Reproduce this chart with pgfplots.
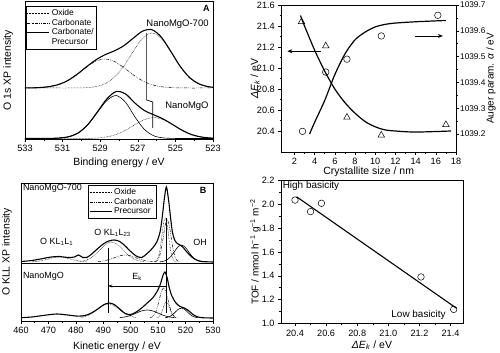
\documentclass[border=0pt]{standalone}
\usepackage{fontspec}
\setmainfont{Liberation Sans}
\usepackage{pgfplots}
\pgfplotsset{compat=1.18}
\usetikzlibrary{arrows.meta}

\pgfplotsset{
  myaxis/.style={
    scale only axis,
    anchor=south west,
    clip mode=individual,
    tick align=outside,
    major tick length=3pt,
    minor tick length=1.8pt,
    axis line style={line width=0.6pt},
    every tick/.style={black, line width=0.5pt},
    /pgf/number format/assume math mode=true,
    /pgf/number format/1000 sep={},
    tick label style={font=\fontsize{9.2}{11}\selectfont},
    label style={font=\fontsize{10.5}{12}\selectfont},
    xtick pos=left, ytick pos=left,
    legend image code/.code={\draw[#1] (0bp,0bp) -- (22bp,0bp);},
    legend style={draw=black, line width=0.5pt, font=\fontsize{8.5}{9.5}\selectfont, inner sep=1pt, row sep=-1.8pt},
    legend cell align=left,
  },
  oxide/.style={black, line width=0.5pt, dash pattern=on 0.6pt off 0.9pt, smooth},
  carb/.style={black, line width=0.5pt, dash pattern=on 3pt off 1.2pt on 0.6pt off 1.2pt on 0.6pt off 1.2pt, smooth},
  prec/.style={black, line width=0.6pt, smooth},
  total/.style={black, line width=1.1pt, smooth},
}

\begin{document}
\begin{tikzpicture}
\path[use as bounding box] (0,0) rectangle (500bp,353bp);

% ---------------- Panel A ----------------
\begin{axis}[myaxis, at={(25bp,214bp)}, width=188bp, height=138bp,
  x dir=reverse, xmin=523, xmax=533, ymin=0, ymax=138,
  xtick={523,525,...,533}, minor x tick num=1, ytick=\empty,
  xlabel={Binding energy / eV}, ylabel={O 1s XP intensity},
  xlabel style={at={(axis description cs:0.5,-0.174)}, anchor=center},
  ylabel style={at={(axis description cs:-0.09,0.5)}, anchor=center},
  legend style={at={(0.005,0.964)}, anchor=north west},
]
\addplot[oxide] coordinates {(533.25,51) (532.75,51) (532.25,51) (531.75,51) (531.25,51) (530.75,51) (530.25,51.07) (529.75,51.35) (529.25,52.3) (528.75,55.2) (528.25,61.5) (527.75,72.7) (527.25,87.4) (526.75,100.6) (526.25,106) (525.75,100.6) (525.25,87.4) (524.75,72.7) (524.25,61.5) (523.75,55.2) (523.25,52.3) (522.75,51.35)};
\addlegendentry{Oxide}
\addplot[carb] coordinates {(533.25,51) (532.75,51.1) (532.25,51.4) (531.75,52.3) (531.25,54.3) (530.75,58.2) (530.25,64.3) (529.75,71.5) (529.25,77.6) (528.75,80) (528.25,77.6) (527.75,71.5) (527.25,64.3) (526.75,58.2) (526.25,54.3) (525.75,52.3) (525.25,51.4) (524.75,51.1) (524.25,51) (523.75,51) (523.25,51) (522.75,51)};
\addlegendentry{Carbonate}
\addplot[prec] coordinates {(533.15,0.5) (532.65,0.5) (532.15,0.5) (531.65,0.6) (531.15,1.0) (530.65,2.4) (530.15,6.3) (529.65,14.5) (529.15,26.6) (528.65,38.4) (528.15,43.5) (527.65,36.7) (527.15,22.0) (526.65,9.6) (526.15,3.2) (525.65,1.1) (525.15,0.6) (524.65,0.5) (524.15,0.5) (523.65,0.5) (523.15,0.5) (522.65,0.5)};
\addlegendentry{Carbonate/}
\addlegendimage{empty legend}
\addlegendentry{Precursor}
% upper total
\addplot[total, forget plot] coordinates {(533.25,51.0) (532.75,51.1) (532.25,51.4) (531.75,52.3) (531.25,54.3) (530.75,58.2) (530.25,64.4) (529.75,71.9) (529.25,78.9) (528.75,84.2) (528.25,88.1) (527.75,93.2) (527.25,100.7) (526.75,107.8) (526.25,109.3) (525.75,101.9) (525.25,87.8) (524.75,72.8) (524.25,61.5) (523.75,55.2) (523.25,52.3) (522.75,51.35)};
% lower oxide
\addplot[oxide, forget plot] coordinates {(533.15,0.5) (532.65,0.5) (532.15,0.5) (531.65,0.5) (531.15,0.5) (530.65,0.5) (530.15,0.5) (529.65,0.6) (529.15,1.0) (528.65,2.1) (528.15,4.5) (527.65,8.8) (527.15,14.4) (526.65,19.4) (526.15,21.5) (525.65,19.4) (525.15,14.4) (524.65,8.8) (524.15,4.5) (523.65,2.1) (523.15,1.0) (522.65,0.6)};
% lower total
\addplot[total, forget plot] coordinates {(533.15,0.5) (532.65,0.5) (532.15,0.5) (531.65,0.6) (531.15,1.0) (530.65,2.4) (530.15,6.3) (529.65,14.6) (529.15,27.1) (528.65,40.0) (528.15,47.5) (527.65,45.0) (527.15,35.9) (526.65,28.5) (526.15,24.2) (525.65,20.0) (525.15,14.5) (524.65,8.8) (524.15,4.5) (523.65,2.1) (523.15,1.0) (522.65,0.6)};
% marker line
\addplot[black, line width=0.7pt, forget plot] coordinates {(526.53,106) (526.53,39) (526.2,37) (526.2,11)};
\node[font=\bfseries\fontsize{9}{10}\selectfont] at (axis cs:523.35,130.7) {A};
\node[anchor=east, font=\fontsize{9.5}{11}\selectfont] at (axis cs:523.05,115) {NanoMgO-700};
\node[anchor=east, font=\fontsize{9.5}{11}\selectfont] at (axis cs:523.05,33) {NanoMgO};
\end{axis}

% ---------------- Panel B ----------------
\begin{axis}[myaxis, at={(21bp,32bp)}, width=192bp, height=138bp,
  xmin=460, xmax=530, ymin=0, ymax=138,
  xtick={460,470,...,530}, minor x tick num=1, ytick=\empty,
  xlabel={Kinetic energy / eV}, ylabel={O KLL XP intensity},
  xlabel style={at={(axis description cs:0.5,-0.187)}, anchor=center},
  ylabel style={at={(axis description cs:-0.073,0.5)}, anchor=center},
  legend style={at={(0.35,0.986)}, anchor=north west},
]
\addplot[oxide] coordinates {(508.6,59.2) (509.1,59.6) (509.6,60.9) (510.1,64) (510.6,70) (511.1,79.2) (511.6,90.1) (512.1,99.3) (512.6,103) (513.1,99.3) (513.6,90.1) (514.1,79.2) (514.6,70) (515.1,64) (515.6,60.9) (516.1,59.6) (516.6,59.2)};
\addlegendentry{Oxide}
\addplot[carb] coordinates {(508.8,59.2) (509.3,59.7) (509.8,60.8) (510.3,63.2) (510.8,67.5) (511.3,74.1) (511.8,82.7) (512.3,91.5) (512.8,98.4) (513.3,101) (513.8,98.4) (514.3,91.5) (514.8,82.7) (515.3,74.1) (515.8,67.5) (516.3,63.2) (516.8,60.8) (517.3,59.7) (517.8,59.2)};
\addlegendentry{Carbonate}
\addplot[prec] coordinates {(510.5,59.15) (511.5,59.45) (512.5,60.2) (513.5,61.7) (514.5,64.2) (515.5,67.7) (516.5,71.6) (517.5,74.8) (518.5,76) (519.5,74.8) (520.5,71.6) (521.5,67.7) (522.5,64.2) (523.5,61.7) (524.5,60.2) (525.5,59.45) (526.5,59.15)};
\addlegendentry{Precursor}
% upper broad components
\addplot[oxide, forget plot] coordinates {(481,59.3) (483,60.2) (485,62.3) (487,66.2) (489,71.7) (491,76.9) (493,79) (495,76.9) (497,71.7) (499,66.2) (501,62.3) (503,60.2) (505,59.3)};
\addplot[oxide, forget plot] coordinates {(464,59.2) (466,59.7) (468,60.6) (470,62) (472,63.4) (474,64) (476,63.4) (478,62) (480,60.6) (482,59.7) (484,59.2)};
\addplot[carb, forget plot] coordinates {(488,59.3) (490,60) (492,61.3) (494,63.2) (496,65.2) (498,66) (500,65.2) (502,63.2) (504,61.3) (506,60) (508,59.3)};
% divider
\addplot[black, line width=0.6pt, forget plot] coordinates {(460,58) (530,58)};
% upper total
\addplot[total, forget plot] coordinates {(460,59.5) (464,60.5) (468,62.5) (471,64) (474,64.5) (477,63.5) (479.5,64) (481,66) (482.5,63.5) (484,63.5) (486,67.5) (488,72.5) (490,77) (492,80) (494,81) (496,79.5) (498,75) (500,69.5) (502,65) (504,63.5) (506,67.5) (508,73) (509.5,79) (510.7,89) (511.5,104) (512.2,121) (513,134) (513.8,121) (514.5,104) (515.2,89) (516,81) (517,77.5) (518,76) (519,74) (520,70.5) (521.5,66) (523,62.5) (524.5,60.5) (526,59.5) (528,59.2) (530,59)};
% lower components
\addplot[oxide, forget plot] coordinates {(509.5,3.2) (510,3.7) (510.5,5) (511,7) (511.5,10.3) (512,14.3) (512.5,17.7) (513,19) (513.5,17.7) (514,14.3) (514.5,10.3) (515,7) (515.5,5) (516,3.7) (516.5,3.2)};
\addplot[carb, forget plot] coordinates {(507,3.23) (508,4.3) (508.5,5.7) (509,8.2) (509.5,11.9) (510,16.7) (510.5,22.3) (511,27.7) (511.5,31.6) (512,33) (512.5,31.6) (513,27.7) (513.5,22.3) (514,16.7) (514.5,11.9) (515,8.2) (515.5,5.7) (516,4.3) (517,3.23)};
\addplot[prec, forget plot] coordinates {(512.5,3.24) (513.5,3.76) (514.5,4.9) (515.5,6.9) (516.5,9.6) (517.5,12) (518.5,13) (519.5,12) (520.5,9.6) (521.5,6.9) (522.5,4.9) (523.5,3.76) (524.5,3.24)};
\addplot[oxide, forget plot] coordinates {(481.8,3.6) (483.8,4.9) (485.8,7.5) (487.8,11.5) (489.8,15.4) (491.8,17) (493.8,15.4) (495.8,11.5) (497.8,7.5) (499.8,4.9) (501.8,3.6)};
\addplot[prec, forget plot] coordinates {(496,3.35) (498,4.1) (500,5.6) (502,7.9) (504,10.1) (506,11) (508,10.1) (510,7.9) (512,5.6) (514,4.1) (516,3.35)};
% lower total
\addplot[total, forget plot] coordinates {(460,3.3) (464,4) (468,5.5) (473,7) (477,6) (480,5) (482,5) (484,6) (486,8.5) (488,12) (490,16) (492,18) (494,16.5) (496,12) (498,7.5) (500,6.5) (502,9) (504,13) (506,18) (508,23) (509.5,29) (510.7,36) (511.7,45) (512.5,49) (513.3,43) (514,34) (515,25) (516.5,18) (518,14.5) (519.5,13) (521,10.5) (522.5,7) (524,4.5) (526,3.3) (530,3)};
% markers
\addplot[black, line width=0.6pt, forget plot] coordinates {(491.8,73) (491.8,8)};
\addplot[black, line width=0.6pt, forget plot] coordinates {(512.9,103) (512.9,8)};
\addplot[black, line width=0.6pt, -{Stealth[length=4pt,width=3pt]}, forget plot] coordinates {(512.9,35) (491.8,35)};
\node[font=\fontsize{9}{10}\selectfont] at (axis cs:502.3,44) {E\textsubscript{k}};
\node[anchor=north west, font=\fontsize{9}{10}\selectfont, inner sep=1pt] at (axis cs:460.3,138) {NanoMgO-700};
\node[anchor=west, font=\fontsize{9}{10}\selectfont, inner sep=1pt] at (axis cs:460.3,44.5) {NanoMgO};
\node[font=\fontsize{9}{10}\selectfont] at (axis cs:473,79) {O KL\textsubscript{1}L\textsubscript{1}};
\node[font=\fontsize{9}{10}\selectfont] at (axis cs:493.4,88) {O KL\textsubscript{1}L\textsubscript{23}};
\node[font=\fontsize{9}{10}\selectfont] at (axis cs:525.3,79) {OH};
\node[font=\bfseries\fontsize{9}{10}\selectfont] at (axis cs:526.4,131) {B};
\end{axis}

% ---------------- Panel C (left axis) ----------------
\begin{axis}[myaxis, at={(281.3bp,201bp)}, width=174.7bp, height=147bp,
  xmin=0.7, xmax=18, ymin=20.2, ymax=21.6,
  xtick={2,4,...,18}, minor x tick num=1,
  ytick={20.4,20.6,20.8,21.0,21.2,21.4,21.6}, minor y tick num=1,
  yticklabel style={/pgf/number format/.cd, fixed, fixed zerofill, precision=1},
  xlabel={Crystallite size / nm},
  ylabel={\textit{ΔE}\textsubscript{\textit{k}} / eV},
  xlabel style={at={(axis description cs:0.5,-0.136)}, anchor=center},
  ylabel style={at={(axis description cs:-0.15,0.5)}, anchor=center},
]
\addplot[black, line width=1.2pt, smooth] coordinates {(2.6,21.5) (3,21.40) (4,21.17) (5,20.97) (6,20.80) (7,20.67) (8,20.57) (9,20.49) (10,20.44) (11,20.41) (12,20.40) (14,20.39) (17.5,20.40)};
\addplot[only marks, mark=triangle, mark size=3.8pt, mark options={black, line width=0.5pt}] coordinates {(2.7,21.44) (5.1,21.21) (7.2,20.53) (10.6,20.36) (17.0,20.46)};
\addplot[black, line width=0.8pt, -{Stealth[length=5pt,width=4pt]}] coordinates {(4.6,21.16) (1.3,21.16)};
\end{axis}

% ---------------- Panel C (right axis) ----------------
\begin{axis}[myaxis, at={(281.3bp,201bp)}, width=174.7bp, height=147bp,
  xmin=0.7, xmax=18, ymin=1039.13, ymax=1039.7,
  hide x axis, axis y line*=right, ytick pos=right,
  ytick={1039.2,1039.3,1039.4,1039.5,1039.6,1039.7}, minor y tick num=1,
  yticklabel style={font=\fontsize{8.3}{10}\selectfont, inner sep=1pt, /pgf/number format/.cd, fixed, fixed zerofill, precision=1, 1000 sep={}},
  ylabel={Auger param. \textit{α} / eV},
  ylabel style={at={(axis description cs:1.2,0.5)}, anchor=center, font=\fontsize{10}{12}\selectfont},
]
\addplot[black, line width=1.2pt, smooth] coordinates {(3.5,1039.20) (4,1039.245) (5,1039.33) (6,1039.43) (7,1039.51) (8,1039.565) (9,1039.595) (10,1039.615) (11,1039.625) (12,1039.63) (14,1039.635) (17,1039.64)};
\addplot[only marks, mark=o, mark size=3.3pt, mark options={black, line width=0.5pt}] coordinates {(2.8,1039.21) (5.1,1039.44) (7.2,1039.49) (10.6,1039.58) (16.2,1039.66)};
\addplot[black, line width=0.8pt, -{Stealth[length=5pt,width=4pt]}] coordinates {(13.9,1039.58) (16.7,1039.58)};
\end{axis}

% ---------------- Panel D ----------------
\begin{axis}[myaxis, at={(281bp,29.7bp)}, width=182bp, height=142.6bp,
  xmin=20.31, xmax=21.48, ymin=1, ymax=2.2,
  xtick={20.4,20.6,20.8,21.0,21.2,21.4}, minor x tick num=1,
  ytick={1.0,1.2,1.4,1.6,1.8,2.0,2.2}, minor y tick num=1,
  ticklabel style={/pgf/number format/.cd, fixed, fixed zerofill, precision=1},
  xlabel={\textit{ΔE}\textsubscript{\textit{k}} / eV},
  ylabel={TOF / mmol h\textsuperscript{−1} g\textsuperscript{−1} m\textsuperscript{−2}},
  xlabel style={at={(axis description cs:0.5,-0.154)}, anchor=center},
  ylabel style={at={(axis description cs:-0.14,0.5)}, anchor=center, font=\fontsize{10}{12}\selectfont},
]
\addplot[black, line width=1.1pt] coordinates {(20.41,2.065) (21.44,1.125)};
\addplot[only marks, mark=o, mark size=3.3pt, mark options={black, line width=0.5pt}] coordinates {(20.40,2.037) (20.50,1.94) (20.57,2.01) (21.21,1.39) (21.42,1.117)};
\node[anchor=west, font=\fontsize{10}{11}\selectfont, inner sep=0pt] at (axis cs:20.32,2.155) {High basicity};
\node[anchor=east, font=\fontsize{10}{11}\selectfont, inner sep=0pt] at (axis cs:21.37,1.07) {Low basicity};
\end{axis}
\end{tikzpicture}
\end{document}
